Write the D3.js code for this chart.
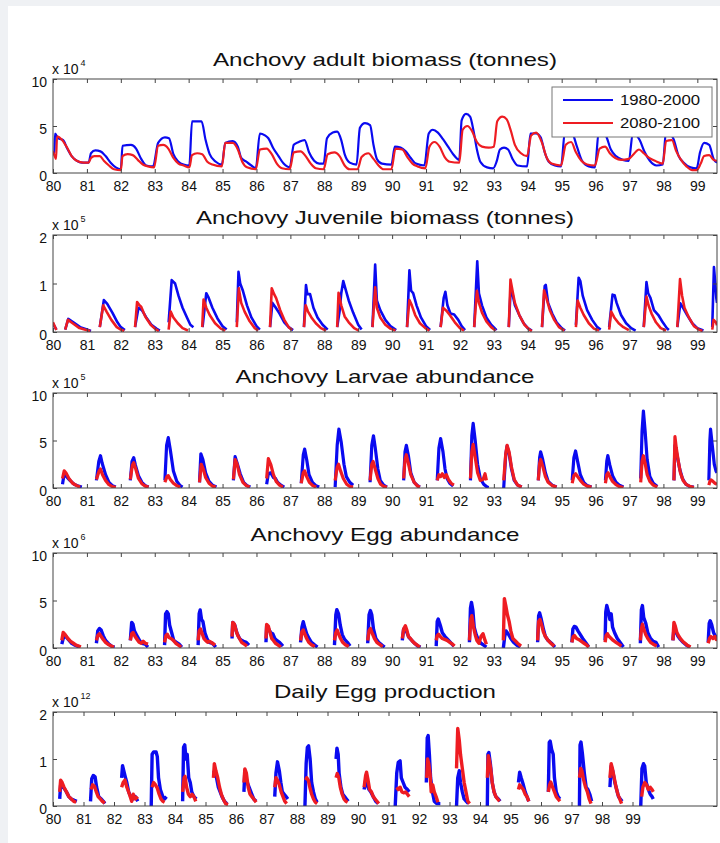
<!DOCTYPE html>
<html>
<head>
<meta charset="utf-8">
<script src="https://cdn.jsdelivr.net/npm/d3@7/dist/d3.min.js"></script>
<style>
body { margin: 0; background: #eff1f4; }
svg { display: block; }
text { font-family: "Liberation Sans", Arial, sans-serif; fill: #111; }
</style>
</head>
<body>
<div class="chart"></div>
<script>
const years = d3.range(80, 100);
const seriesNames = ['1980-2000', '2080-2100'];
const titles = ['Anchovy adult biomass (tonnes)', 'Anchovy Juvenile biomass (tonnes)', 'Anchovy Larvae abundance', 'Anchovy Egg abundance', 'Daily Egg production'];
const exponents = ['4', '5', '5', '6', '12'];
const yMax = [10, 2, 10, 10, 2];
const yTicks = [[0, 5, 10], [0, 1, 2], [0, 5, 10], [0, 5, 10], [0, 1, 2]];
const xMax = [99.58, 99.58, 99.58, 99.58, 101.77];

// [year, value] ; null = break in the line
const adultBlue = [[80.0,2.2],[80.04,2.0],[80.06,4.2],[80.15,3.7],[80.3,3.5],[80.42,2.6],[80.55,1.8],[80.7,1.3],[80.85,1.1],[81.05,1.1],[81.12,2.1],[81.25,2.4],[81.4,2.3],[81.55,1.8],[81.7,1.1],[81.85,0.6],[82.0,0.4],[82.05,2.9],[82.3,3.0],[82.45,2.6],[82.6,1.5],[82.75,0.8],[82.95,0.7],[83.1,3.2],[83.3,3.8],[83.42,3.7],[83.55,2.0],[83.7,1.2],[83.85,0.9],[84.02,0.8],[84.1,5.5],[84.38,5.5],[84.5,3.5],[84.62,2.0],[84.8,1.2],[84.98,0.9],[85.08,3.2],[85.3,3.4],[85.45,2.8],[85.55,1.6],[85.7,1.2],[85.85,0.8],[85.98,0.5],[86.1,4.2],[86.25,4.0],[86.35,3.7],[86.5,2.6],[86.65,1.8],[86.8,1.0],[86.98,0.6],[87.1,3.0],[87.25,3.3],[87.42,3.5],[87.55,2.2],[87.7,1.3],[87.85,1.0],[87.98,1.0],[88.08,3.7],[88.25,4.3],[88.38,4.4],[88.5,3.5],[88.6,2.0],[88.75,1.1],[88.95,0.9],[89.05,4.8],[89.2,5.3],[89.35,5.1],[89.45,3.0],[89.55,1.5],[89.7,1.0],[89.98,0.9],[90.08,2.8],[90.25,2.7],[90.4,2.3],[90.55,1.6],[90.7,1.0],[90.95,0.8],[91.08,4.2],[91.2,4.6],[91.35,4.3],[91.5,3.6],[91.65,2.8],[91.8,2.0],[91.98,1.4],[92.05,5.6],[92.18,6.3],[92.3,6.0],[92.4,4.5],[92.5,2.5],[92.6,1.2],[92.8,0.6],[92.98,0.5],[93.08,1.2],[93.18,2.5],[93.3,2.7],[93.42,2.5],[93.55,1.5],[93.7,0.8],[93.98,0.7],[94.08,4.2],[94.25,4.2],[94.38,3.8],[94.5,2.2],[94.62,1.2],[94.8,0.8],[94.98,0.7],[95.1,4.5],[95.3,4.3],[95.45,2.8],[95.6,1.3],[95.8,0.7],[95.98,0.6],[96.1,4.6],[96.3,4.0],[96.45,2.5],[96.6,1.8],[96.8,1.4],[96.98,1.3],[97.1,4.3],[97.3,3.5],[97.45,2.2],[97.6,1.3],[97.8,0.8],[97.98,0.9],[98.08,4.5],[98.3,3.6],[98.45,1.8],[98.6,1.1],[98.8,0.6],[98.98,0.5],[99.08,2.2],[99.2,3.2],[99.35,3.0],[99.48,1.5],[99.58,1.1]];
const adultRed = [[80.0,2.3],[80.05,1.8],[80.09,1.5],[80.12,3.9],[80.25,3.6],[80.4,2.8],[80.55,1.8],[80.7,1.3],[80.9,1.1],[81.05,1.1],[81.12,1.6],[81.22,1.8],[81.38,1.8],[81.5,1.3],[81.65,0.8],[81.8,0.4],[82.0,0.3],[82.05,1.8],[82.2,2.0],[82.35,1.9],[82.5,1.4],[82.65,0.9],[82.8,0.7],[82.98,0.6],[83.1,2.9],[83.25,3.0],[83.4,2.6],[83.55,1.6],[83.7,1.0],[83.85,0.8],[84.02,0.6],[84.1,1.9],[84.25,2.1],[84.4,2.0],[84.55,1.2],[84.7,0.9],[84.98,0.7],[85.08,3.2],[85.3,3.2],[85.45,2.5],[85.58,1.2],[85.72,0.6],[85.98,0.4],[86.1,2.5],[86.3,2.6],[86.45,2.0],[86.6,1.0],[86.75,0.5],[86.98,0.4],[87.1,2.2],[87.3,2.3],[87.45,1.8],[87.6,1.0],[87.75,0.5],[87.98,0.4],[88.1,2.0],[88.3,2.2],[88.45,1.8],[88.6,0.8],[88.75,0.4],[88.98,0.4],[89.1,1.7],[89.3,2.1],[89.45,1.5],[89.6,0.8],[89.75,0.4],[89.98,0.4],[90.1,2.6],[90.3,2.5],[90.45,1.7],[90.6,1.0],[90.75,0.7],[90.98,0.5],[91.1,2.8],[91.25,3.3],[91.4,2.8],[91.55,1.7],[91.7,1.2],[91.98,1.1],[92.08,4.6],[92.22,5.0],[92.35,4.5],[92.5,3.3],[92.65,2.8],[92.85,2.7],[93.0,2.8],[93.1,5.5],[93.25,6.0],[93.38,5.7],[93.5,4.5],[93.62,3.0],[93.8,2.1],[93.98,1.8],[94.1,4.0],[94.25,4.3],[94.42,3.2],[94.55,1.7],[94.7,1.0],[94.98,0.8],[95.12,3.0],[95.28,3.3],[95.42,2.2],[95.58,1.3],[95.75,0.9],[95.98,0.8],[96.12,2.6],[96.28,2.8],[96.42,2.1],[96.58,1.6],[96.75,1.4],[96.98,1.5],[97.12,2.0],[97.28,2.5],[97.42,2.1],[97.58,1.6],[97.75,1.3],[97.98,1.0],[98.08,3.4],[98.25,3.5],[98.38,2.3],[98.52,1.4],[98.68,0.7],[98.85,0.3],[98.98,0.3],[99.1,1.0],[99.2,1.8],[99.35,1.9],[99.48,1.4],[99.58,1.3]];

const juvBlue = [[80.0,0.17],[80.1,0.05],null,[80.36,0.05],[80.45,0.27],[80.6,0.2],[80.8,0.1],[81.0,0.05],[81.12,0.02],null,[81.38,0.1],[81.5,0.66],[81.6,0.58],[81.75,0.4],[81.9,0.2],[82.0,0.1],[82.12,0.04],null,[82.42,0.1],[82.52,0.5],[82.62,0.45],[82.75,0.3],[82.9,0.15],[83.05,0.07],[83.15,0.03],null,[83.41,0.2],[83.5,1.07],[83.6,1.0],[83.7,0.75],[83.82,0.5],[83.95,0.3],[84.05,0.15],[84.14,0.1],null,[84.41,0.1],[84.52,0.8],[84.58,0.72],[84.7,0.5],[84.85,0.28],[85.0,0.12],[85.12,0.05],null,[85.42,0.2],[85.47,1.24],[85.52,1.0],[85.6,0.85],[85.72,0.55],[85.85,0.3],[86.0,0.12],[86.1,0.05],null,[86.4,0.1],[86.47,0.6],[86.55,0.52],[86.68,0.38],[86.82,0.2],[86.95,0.1],[87.08,0.04],null,[87.4,0.1],[87.46,0.97],[87.5,0.78],[87.58,0.78],[87.68,0.5],[87.8,0.3],[87.95,0.15],[88.1,0.05],null,[88.38,0.1],[88.45,0.42],[88.5,0.8],[88.56,1.05],[88.62,0.9],[88.72,0.65],[88.85,0.4],[89.0,0.15],[89.1,0.05],null,[89.42,0.1],[89.5,1.39],[89.55,0.65],[89.65,0.45],[89.8,0.25],[89.95,0.12],[90.12,0.04],null,[90.44,0.1],[90.51,1.27],[90.56,0.85],[90.62,0.8],[90.72,0.55],[90.85,0.3],[91.0,0.12],[91.12,0.04],null,[91.43,0.1],[91.52,0.7],[91.57,0.83],[91.63,0.55],[91.72,0.38],[91.83,0.36],[91.95,0.25],[92.05,0.12],[92.15,0.04],null,[92.42,0.1],[92.51,1.46],[92.56,0.8],[92.65,0.55],[92.78,0.3],[92.92,0.15],[93.08,0.04],null,[93.44,0.1],[93.5,0.95],[93.56,0.75],[93.62,0.55],[93.75,0.35],[93.88,0.18],[94.0,0.08],[94.12,0.03],null,[94.42,0.1],[94.5,0.95],[94.53,0.97],[94.6,0.6],[94.72,0.38],[94.85,0.2],[95.0,0.08],[95.1,0.03],null,[95.42,0.15],[95.5,1.12],[95.55,1.05],[95.62,0.75],[95.75,0.45],[95.9,0.25],[96.05,0.1],[96.15,0.05],null,[96.4,0.1],[96.5,0.77],[96.56,0.76],[96.62,0.6],[96.75,0.35],[96.9,0.18],[97.05,0.08],[97.18,0.03],null,[97.42,0.1],[97.5,1.03],[97.55,0.8],[97.62,0.7],[97.72,0.45],[97.85,0.35],[97.98,0.2],[98.1,0.08],[98.16,0.04],null,[98.41,0.1],[98.5,0.59],[98.58,0.5],[98.7,0.35],[98.85,0.18],[99.0,0.08],[99.18,0.03],null,[99.44,0.1],[99.49,1.34],[99.53,1.0],[99.56,0.7],[99.58,0.6]];
const juvRed = [[80.0,0.2],[80.05,0.12],[80.1,0.04],null,[80.36,0.05],[80.44,0.25],[80.58,0.18],[80.78,0.08],[80.98,0.04],[81.1,0.02],null,[81.38,0.1],[81.48,0.55],[81.58,0.42],[81.72,0.25],[81.88,0.1],[82.0,0.05],[82.1,0.02],null,[82.42,0.1],[82.48,0.62],[82.55,0.55],[82.6,0.52],[82.72,0.32],[82.88,0.15],[83.02,0.06],[83.12,0.02],null,[83.41,0.05],[83.47,0.42],[83.55,0.3],[83.68,0.18],[83.82,0.08],[83.98,0.03],null,[84.4,0.1],[84.44,0.67],[84.52,0.5],[84.62,0.35],[84.78,0.18],[84.95,0.07],[85.08,0.03],null,[85.42,0.1],[85.48,0.9],[85.55,0.6],[85.65,0.42],[85.8,0.22],[85.95,0.08],[86.05,0.03],null,[86.4,0.1],[86.45,0.9],[86.52,0.78],[86.58,0.7],[86.7,0.45],[86.82,0.25],[86.95,0.1],[87.05,0.04],null,[87.4,0.1],[87.45,0.55],[87.52,0.42],[87.62,0.3],[87.75,0.18],[87.9,0.08],[88.05,0.03],null,[88.38,0.1],[88.42,0.81],[88.5,0.55],[88.6,0.32],[88.72,0.2],[88.88,0.08],[89.02,0.03],null,[89.42,0.1],[89.5,0.92],[89.55,0.5],[89.65,0.3],[89.8,0.15],[89.95,0.07],[90.1,0.03],null,[90.44,0.1],[90.51,0.66],[90.58,0.55],[90.68,0.35],[90.82,0.18],[90.98,0.08],[91.1,0.03],null,[91.43,0.1],[91.5,0.5],[91.6,0.44],[91.7,0.35],[91.85,0.2],[92.0,0.08],[92.12,0.03],null,[92.42,0.1],[92.5,0.85],[92.56,0.6],[92.65,0.4],[92.78,0.22],[92.92,0.1],[93.05,0.03],null,[93.44,0.1],[93.49,1.08],[93.55,0.85],[93.62,0.6],[93.75,0.35],[93.9,0.15],[94.05,0.05],[94.12,0.02],null,[94.42,0.1],[94.48,0.86],[94.55,0.7],[94.65,0.45],[94.78,0.25],[94.92,0.1],[95.08,0.03],null,[95.42,0.1],[95.47,0.65],[95.55,0.5],[95.65,0.35],[95.8,0.18],[95.95,0.07],[96.1,0.03],null,[96.4,0.05],[96.46,0.42],[96.55,0.3],[96.68,0.18],[96.82,0.1],[96.98,0.04],null,[97.42,0.1],[97.5,0.73],[97.56,0.55],[97.65,0.38],[97.78,0.2],[97.92,0.08],[98.08,0.03],null,[98.41,0.1],[98.49,1.09],[98.55,0.75],[98.62,0.5],[98.75,0.3],[98.9,0.12],[99.05,0.05],[99.15,0.02],null,[99.44,0.05],[99.48,0.25],[99.55,0.2],[99.58,0.14]];

const larBlue = [[80.28,0.4],[80.33,1.5],[80.4,1.2],[80.5,0.8],[80.62,0.4],[80.75,0.2],[80.85,0.1],null,[81.28,0.8],[81.35,2.8],[81.4,3.4],[81.45,2.6],[81.55,1.4],[81.65,0.6],[81.75,0.25],[81.85,0.1],null,[82.28,0.8],[82.33,2.8],[82.38,3.2],[82.43,2.4],[82.52,1.3],[82.62,0.6],[82.72,0.25],[82.82,0.1],null,[83.3,0.8],[83.35,4.5],[83.4,5.3],[83.46,4.0],[83.55,1.8],[83.65,0.7],[83.75,0.25],[83.82,0.1],null,[84.32,0.6],[84.36,3.6],[84.42,3.0],[84.5,1.6],[84.6,0.7],[84.7,0.3],[84.82,0.1],null,[85.32,0.8],[85.37,3.3],[85.43,2.6],[85.52,1.5],[85.62,0.6],[85.72,0.25],[85.82,0.1],null,[86.3,0.4],[86.35,1.5],[86.42,1.6],[86.5,1.1],[86.56,1.0],[86.62,0.6],[86.72,0.3],[86.82,0.1],null,[87.32,0.5],[87.38,3.5],[87.42,4.1],[87.48,3.0],[87.55,1.4],[87.65,0.6],[87.75,0.25],[87.85,0.1],null,[88.32,0.1],[88.38,4.5],[88.43,6.2],[88.5,4.8],[88.58,2.5],[88.65,1.2],[88.75,0.6],[88.85,0.3],null,[89.35,0.6],[89.4,4.5],[89.45,5.5],[89.5,4.3],[89.58,2.0],[89.65,0.8],[89.75,0.3],[89.85,0.1],null,[90.34,0.8],[90.38,3.8],[90.42,4.5],[90.48,3.4],[90.55,1.6],[90.65,0.6],[90.75,0.25],[90.82,0.1],null,[91.33,0.8],[91.38,4.2],[91.43,5.2],[91.5,3.8],[91.56,2.0],[91.62,1.0],[91.7,0.5],[91.8,0.2],null,[92.31,0.8],[92.35,5.5],[92.39,6.8],[92.45,5.0],[92.52,2.5],[92.6,1.0],[92.7,0.4],[92.8,0.1],[92.85,0.05],null,[93.29,0.0],[93.35,3.5],[93.39,4.4],[93.45,3.6],[93.52,2.0],[93.6,0.8],[93.7,0.3],[93.82,0.1],null,[94.31,0.8],[94.35,3.2],[94.38,3.8],[94.44,3.0],[94.52,1.6],[94.6,0.7],[94.72,0.3],[94.85,0.1],null,[95.31,0.8],[95.36,3.2],[95.41,3.9],[95.47,2.8],[95.55,1.4],[95.65,0.6],[95.75,0.25],[95.88,0.1],null,[96.29,0.8],[96.33,2.8],[96.36,3.4],[96.42,2.4],[96.5,1.3],[96.6,0.6],[96.7,0.3],[96.82,0.1],null,[97.33,1.0],[97.37,6.0],[97.41,8.1],[97.46,6.0],[97.52,3.0],[97.6,1.2],[97.7,0.5],[97.82,0.15],null,[98.31,0.8],[98.34,4.5],[98.4,3.5],[98.48,2.0],[98.56,1.0],[98.66,0.4],[98.78,0.15],[98.9,0.1],null,[99.34,0.8],[99.37,5.0],[99.39,6.2],[99.44,4.5],[99.5,2.5],[99.55,1.8],[99.58,1.6]];
const larRed = [[80.28,1.0],[80.33,1.8],[80.38,1.6],[80.47,1.0],[80.58,0.5],[80.7,0.25],[80.8,0.1],null,[81.28,0.9],[81.36,1.8],[81.4,2.0],[81.46,1.4],[81.55,0.8],[81.65,0.35],[81.75,0.15],[81.85,0.05],null,[82.28,0.9],[82.34,2.4],[82.38,2.66],[82.44,2.0],[82.52,1.0],[82.62,0.45],[82.72,0.2],[82.82,0.1],null,[83.3,0.6],[83.36,1.2],[83.4,1.3],[83.46,0.9],[83.55,0.5],[83.65,0.25],[83.75,0.1],null,[84.32,0.6],[84.37,2.5],[84.43,2.0],[84.5,1.1],[84.6,0.5],[84.7,0.2],[84.8,0.1],null,[85.32,0.9],[85.37,3.0],[85.43,2.5],[85.5,1.4],[85.6,0.6],[85.7,0.25],[85.8,0.1],null,[86.3,1.0],[86.35,3.1],[86.42,2.5],[86.5,1.4],[86.58,0.7],[86.68,0.3],[86.78,0.1],null,[87.32,0.5],[87.38,1.6],[87.42,1.8],[87.48,1.2],[87.56,0.6],[87.66,0.25],[87.76,0.1],null,[88.32,0.8],[88.38,2.2],[88.42,2.5],[88.48,1.8],[88.56,1.0],[88.66,0.4],[88.76,0.15],[88.85,0.1],null,[89.35,0.8],[89.4,2.5],[89.44,2.8],[89.5,2.0],[89.58,1.0],[89.66,0.4],[89.76,0.15],[89.85,0.1],null,[90.34,1.0],[90.38,3.0],[90.42,3.5],[90.48,2.6],[90.55,1.4],[90.65,0.6],[90.75,0.2],[90.82,0.1],null,[91.33,0.8],[91.38,1.4],[91.43,1.2],[91.48,1.5],[91.54,1.1],[91.6,1.4],[91.66,0.9],[91.74,0.5],[91.82,0.3],null,[92.31,1.0],[92.35,3.8],[92.39,4.6],[92.45,3.2],[92.52,1.6],[92.6,0.8],[92.68,0.9],[92.74,1.5],[92.78,0.8],null,[93.29,0.8],[93.35,3.6],[93.39,4.5],[93.45,3.8],[93.52,2.2],[93.6,0.9],[93.7,0.3],[93.82,0.1],null,[94.31,0.8],[94.35,2.6],[94.38,3.0],[94.44,2.3],[94.52,1.2],[94.6,0.6],[94.72,0.25],[94.85,0.1],null,[95.31,0.5],[95.36,1.3],[95.41,1.5],[95.47,1.2],[95.55,0.8],[95.65,0.4],[95.75,0.2],[95.88,0.1],null,[96.29,0.5],[96.33,1.4],[96.37,1.6],[96.42,1.2],[96.5,0.7],[96.6,0.35],[96.7,0.15],[96.82,0.05],null,[97.33,0.6],[97.37,2.8],[97.41,3.4],[97.46,2.6],[97.52,1.4],[97.6,0.7],[97.7,0.3],[97.82,0.1],null,[98.31,0.8],[98.34,5.4],[98.38,4.2],[98.44,2.8],[98.5,1.6],[98.58,0.8],[98.68,0.35],[98.8,0.15],[98.9,0.05],null,[99.34,0.3],[99.37,0.7],[99.4,0.86],[99.46,0.7],[99.52,0.5],[99.58,0.4]];

const eggBlue = [[80.26,0.4],[80.3,1.0],[80.36,1.3],[80.45,0.9],[80.55,0.5],[80.65,0.3],[80.75,0.15],[80.8,0.1],null,[81.28,0.5],[81.32,1.8],[81.37,2.06],[81.42,1.9],[81.48,1.3],[81.55,0.8],[81.65,0.4],[81.75,0.15],[81.82,0.1],null,[82.28,0.8],[82.32,2.7],[82.36,2.5],[82.4,1.8],[82.46,1.4],[82.55,0.8],[82.62,0.5],[82.72,0.4],[82.8,0.1],null,[83.29,0.3],[83.32,3.6],[83.36,3.83],[83.4,3.6],[83.44,2.4],[83.5,1.6],[83.56,0.8],[83.64,0.6],[83.72,0.4],[83.8,0.1],null,[84.28,0.3],[84.31,3.6],[84.34,4.0],[84.38,3.0],[84.42,2.8],[84.48,1.6],[84.54,1.0],[84.6,0.6],[84.7,0.5],[84.8,0.1],null,[85.28,1.0],[85.3,2.7],[85.36,2.4],[85.42,1.6],[85.5,1.0],[85.56,0.8],[85.62,0.7],[85.7,0.6],[85.78,0.3],null,[86.28,0.6],[86.3,2.3],[86.36,2.0],[86.42,1.6],[86.48,1.5],[86.54,1.0],[86.6,0.8],[86.68,0.6],[86.78,0.2],null,[87.3,0.6],[87.34,2.2],[87.38,2.77],[87.42,2.2],[87.48,1.5],[87.55,1.0],[87.62,0.6],[87.72,0.3],[87.8,0.1],null,[88.3,0.3],[88.34,3.5],[88.37,4.04],[88.42,3.6],[88.47,2.4],[88.53,1.4],[88.6,0.9],[88.68,0.6],[88.76,0.2],null,[89.28,0.5],[89.32,3.5],[89.36,3.94],[89.4,3.5],[89.45,2.0],[89.52,1.0],[89.6,0.6],[89.7,0.3],[89.78,0.1],null,[90.3,0.8],[90.34,2.0],[90.38,2.0],[90.44,1.6],[90.5,1.1],[90.58,0.8],[90.66,0.5],[90.76,0.2],[90.84,0.1],null,[91.3,0.2],[91.33,2.8],[91.36,3.05],[91.42,2.4],[91.48,1.6],[91.56,1.2],[91.64,0.9],[91.72,0.6],[91.82,0.2],null,[92.28,0.6],[92.31,4.2],[92.34,4.8],[92.38,4.0],[92.42,2.2],[92.48,1.4],[92.55,0.8],[92.62,0.5],[92.7,0.3],[92.78,0.1],null,[93.28,0.0],[93.32,1.2],[93.36,1.8],[93.42,1.5],[93.5,1.0],[93.58,0.6],[93.68,0.3],[93.78,0.1],null,[94.29,0.6],[94.32,3.4],[94.35,3.7],[94.4,3.0],[94.46,2.0],[94.52,1.2],[94.6,0.8],[94.7,0.5],[94.8,0.1],null,[95.3,0.6],[95.33,2.0],[95.37,2.27],[95.42,2.2],[95.48,1.8],[95.55,1.4],[95.62,1.0],[95.7,0.6],[95.8,0.1],null,[96.28,0.8],[96.3,3.8],[96.33,4.47],[96.38,3.8],[96.42,3.0],[96.46,3.6],[96.5,2.2],[96.56,1.6],[96.64,1.0],[96.72,0.6],[96.82,0.1],null,[97.32,0.5],[97.35,4.0],[97.38,4.47],[97.42,3.2],[97.48,2.6],[97.54,1.6],[97.62,1.0],[97.7,0.7],[97.78,0.6],[97.86,0.1],null,[98.28,0.8],[98.31,2.0],[98.36,1.8],[98.42,1.3],[98.5,0.9],[98.58,0.6],[98.68,0.3],[98.78,0.1],null,[99.32,0.6],[99.35,2.6],[99.38,2.87],[99.42,2.5],[99.48,1.6],[99.54,1.2],[99.58,1.0]];
const eggRed = [[80.26,0.8],[80.3,1.63],[80.36,1.4],[80.44,1.0],[80.52,0.7],[80.6,0.5],[80.68,0.3],[80.76,0.2],[80.82,0.1],null,[81.28,0.8],[81.32,1.3],[81.37,1.5],[81.42,1.2],[81.48,0.9],[81.55,0.6],[81.62,0.4],[81.72,0.2],[81.8,0.1],null,[82.28,0.8],[82.32,1.5],[82.36,1.63],[82.42,1.2],[82.48,0.9],[82.54,0.6],[82.6,0.5],[82.66,0.7],[82.72,0.5],[82.8,0.4],null,[83.29,0.6],[83.33,1.3],[83.37,1.45],[83.42,1.1],[83.48,1.0],[83.55,0.8],[83.62,0.5],[83.7,0.3],[83.78,0.1],null,[84.28,0.8],[84.31,1.8],[84.35,2.0],[84.4,1.5],[84.45,1.0],[84.5,0.8],[84.56,0.6],[84.62,0.7],[84.7,0.5],[84.78,0.3],null,[85.28,1.2],[85.3,2.7],[85.35,2.5],[85.4,1.8],[85.45,1.3],[85.5,1.0],[85.56,0.6],[85.64,0.4],[85.72,0.2],null,[86.28,1.0],[86.3,2.48],[86.35,2.3],[86.4,1.6],[86.45,1.0],[86.5,0.8],[86.56,0.5],[86.64,0.3],[86.72,0.1],null,[87.3,0.8],[87.34,1.7],[87.38,1.9],[87.42,1.5],[87.48,1.0],[87.54,0.6],[87.62,0.35],[87.72,0.15],null,[88.3,0.8],[88.34,1.6],[88.38,1.9],[88.42,1.5],[88.48,1.0],[88.54,0.6],[88.62,0.35],[88.72,0.15],null,[89.28,0.8],[89.32,1.8],[89.36,2.05],[89.42,1.5],[89.48,1.0],[89.55,0.6],[89.62,0.4],[89.72,0.15],null,[90.3,1.0],[90.34,2.0],[90.39,2.34],[90.44,1.8],[90.48,1.2],[90.54,1.0],[90.6,0.7],[90.66,0.5],[90.74,0.3],[90.82,0.1],null,[91.3,0.8],[91.33,1.3],[91.37,1.45],[91.42,1.2],[91.48,1.0],[91.55,0.9],[91.62,0.8],[91.7,0.6],[91.78,0.4],[91.84,0.2],null,[92.28,0.8],[92.32,3.0],[92.35,3.4],[92.4,2.2],[92.45,1.4],[92.5,0.8],[92.56,0.5],[92.62,1.2],[92.68,1.5],[92.74,0.8],[92.78,0.4],null,[93.28,0.8],[93.31,5.2],[93.35,4.5],[93.4,3.5],[93.45,2.8],[93.5,1.8],[93.56,1.0],[93.62,0.8],[93.7,0.5],[93.8,0.2],null,[94.29,0.8],[94.32,2.8],[94.36,3.0],[94.41,2.4],[94.46,1.7],[94.52,1.2],[94.6,0.8],[94.68,0.5],[94.78,0.2],null,[95.3,0.6],[95.34,1.2],[95.38,1.3],[95.44,1.0],[95.5,0.9],[95.58,0.7],[95.66,0.5],[95.74,0.3],[95.8,0.1],null,[96.28,0.6],[96.31,1.3],[96.35,1.5],[96.4,1.2],[96.46,1.0],[96.52,0.8],[96.6,0.6],[96.68,0.4],[96.76,0.2],null,[97.32,0.8],[97.35,2.0],[97.38,2.5],[97.42,2.0],[97.48,1.4],[97.54,1.0],[97.62,0.6],[97.7,0.4],[97.8,0.2],null,[98.28,0.8],[98.31,2.7],[98.35,2.3],[98.4,1.6],[98.46,1.2],[98.52,0.9],[98.6,0.6],[98.7,0.3],[98.8,0.1],null,[99.32,0.5],[99.36,1.0],[99.4,1.2],[99.46,1.0],[99.52,1.2],[99.56,0.9],[99.58,1.0]];

const depBlue = [[80.22,0.15],[80.25,0.45],[80.3,0.42],[80.36,0.38],[80.44,0.3],[80.52,0.2],[80.6,0.15],[80.7,0.12],[80.78,0.1],null,[81.23,0.1],[81.27,0.58],[81.32,0.65],[81.38,0.62],[81.43,0.4],[81.5,0.2],[81.58,0.15],[81.65,0.1],[81.7,0.05],null,[82.25,0.6],[82.28,0.86],[82.32,0.75],[82.37,0.62],[82.42,0.5],[82.48,0.3],[82.55,0.2],[82.62,0.15],[82.7,0.2],[82.78,0.1],null,[83.22,0.0],[83.25,1.1],[83.3,1.15],[83.38,1.15],[83.42,1.05],[83.46,0.6],[83.52,0.35],[83.6,0.2],[83.66,0.15],[83.72,0.2],null,[84.25,0.1],[84.28,1.25],[84.32,1.3],[84.36,1.0],[84.4,1.1],[84.45,0.6],[84.5,0.5],[84.55,0.3],[84.62,0.2],[84.7,0.15],null,[85.26,0.7],[85.3,0.75],[85.36,0.6],[85.42,0.4],[85.48,0.3],[85.54,0.2],[85.62,0.1],[85.7,0.05],null,[86.26,0.3],[86.29,0.75],[86.34,0.55],[86.4,0.45],[86.46,0.35],[86.52,0.25],[86.58,0.15],[86.66,0.1],null,[87.27,0.2],[87.31,0.7],[87.36,0.94],[87.42,0.75],[87.47,0.5],[87.52,0.3],[87.58,0.25],[87.64,0.2],[87.7,0.15],null,[88.26,0.0],[88.3,0.9],[88.34,1.25],[88.38,1.28],[88.43,1.0],[88.48,0.5],[88.54,0.3],[88.6,0.15],[88.66,0.08],null,[89.28,1.0],[89.31,1.23],[89.35,1.1],[89.38,0.7],[89.44,0.4],[89.5,0.25],[89.56,0.2],[89.62,0.15],[89.68,0.1],null,[90.2,0.35],[90.25,0.55],[90.3,0.45],[90.36,0.35],[90.42,0.3],[90.5,0.2],[90.58,0.1],[90.66,0.05],null,[91.22,0.0],[91.27,0.7],[91.32,0.93],[91.38,0.96],[91.42,0.6],[91.48,0.5],[91.54,0.4],[91.62,0.35],[91.68,0.3],null,[92.24,0.5],[92.27,1.45],[92.3,1.5],[92.34,1.1],[92.38,0.6],[92.44,0.3],[92.5,0.1],[92.58,0.05],[92.7,0.05],null,[93.23,0.0],[93.27,0.6],[93.32,0.75],[93.36,0.5],[93.42,0.3],[93.48,0.15],[93.55,0.1],[93.62,0.05],null,[94.24,0.0],[94.26,1.1],[94.29,1.14],[94.34,0.9],[94.4,0.5],[94.46,0.3],[94.52,0.2],[94.6,0.15],[94.66,0.1],null,[95.26,0.5],[95.3,0.72],[95.35,0.6],[95.42,0.45],[95.48,0.3],[95.54,0.2],[95.6,0.1],null,[96.24,0.3],[96.27,1.35],[96.3,1.38],[96.35,1.2],[96.4,1.1],[96.44,0.6],[96.5,0.3],[96.56,0.2],[96.62,0.15],null,[97.26,0.0],[97.28,1.3],[97.31,1.36],[97.36,1.1],[97.42,0.7],[97.48,0.4],[97.54,0.35],[97.6,0.25],[97.66,0.1],null,[98.26,0.4],[98.3,0.85],[98.35,0.75],[98.42,0.5],[98.48,0.35],[98.54,0.2],[98.6,0.15],[98.66,0.1],null,[99.27,0.0],[99.31,0.8],[99.36,0.9],[99.4,0.85],[99.45,0.5],[99.52,0.35],[99.58,0.25],[99.64,0.2],[99.68,0.15]];
const depRed = [[80.22,0.3],[80.25,0.55],[80.3,0.5],[80.36,0.4],[80.44,0.3],[80.52,0.2],[80.6,0.15],[80.68,0.1],[80.76,0.08],null,[81.25,0.35],[81.3,0.45],[81.36,0.42],[81.42,0.3],[81.48,0.2],[81.55,0.15],[81.62,0.1],[81.7,0.06],null,[82.25,0.4],[82.3,0.5],[82.36,0.55],[82.42,0.4],[82.48,0.3],[82.53,0.2],[82.58,0.1],[82.63,0.25],[82.7,0.15],[82.78,0.2],null,[83.25,0.4],[83.3,0.5],[83.36,0.45],[83.42,0.38],[83.48,0.25],[83.54,0.15],[83.6,0.1],[83.66,0.08],null,[84.25,0.3],[84.3,0.6],[84.33,0.63],[84.38,0.4],[84.44,0.25],[84.5,0.2],[84.56,0.25],[84.62,0.2],[84.68,0.1],null,[85.26,0.6],[85.29,0.9],[85.34,0.75],[85.4,0.6],[85.46,0.4],[85.52,0.25],[85.58,0.15],[85.66,0.05],[85.74,0.03],null,[86.26,0.5],[86.29,0.79],[86.34,0.7],[86.4,0.4],[86.46,0.25],[86.52,0.2],[86.58,0.15],[86.66,0.08],null,[87.27,0.4],[87.31,0.6],[87.36,0.55],[87.42,0.45],[87.48,0.3],[87.54,0.2],[87.6,0.1],[87.66,0.05],null,[88.28,0.55],[88.32,0.6],[88.37,0.55],[88.42,0.4],[88.48,0.25],[88.54,0.15],[88.6,0.08],[88.66,0.05],null,[89.28,0.6],[89.32,0.69],[89.37,0.6],[89.42,0.4],[89.48,0.25],[89.54,0.15],[89.6,0.1],[89.66,0.08],null,[90.2,0.4],[90.25,0.65],[90.28,0.72],[90.33,0.55],[90.38,0.35],[90.44,0.3],[90.5,0.2],[90.56,0.15],[90.62,0.1],[90.68,0.05],null,[91.27,0.4],[91.32,0.35],[91.38,0.4],[91.44,0.3],[91.5,0.28],[91.56,0.3],[91.62,0.25],[91.68,0.2],null,[92.25,0.6],[92.28,1.0],[92.32,0.9],[92.36,0.7],[92.4,0.3],[92.45,0.45],[92.5,0.3],[92.56,0.2],[92.62,0.08],null,[93.23,0.8],[93.27,1.65],[93.32,1.4],[93.36,1.1],[93.42,0.8],[93.48,0.5],[93.54,0.3],[93.6,0.1],[93.66,0.05],null,[94.24,0.6],[94.27,1.07],[94.3,1.0],[94.35,0.8],[94.4,0.5],[94.46,0.3],[94.52,0.2],[94.58,0.15],[94.64,0.1],null,[95.26,0.35],[95.3,0.45],[95.36,0.4],[95.42,0.35],[95.48,0.25],[95.54,0.2],[95.6,0.1],null,[96.24,0.3],[96.28,0.45],[96.32,0.51],[96.38,0.4],[96.44,0.3],[96.5,0.2],[96.56,0.15],[96.62,0.1],null,[97.26,0.6],[97.3,0.8],[97.34,0.75],[97.4,0.55],[97.46,0.4],[97.52,0.3],[97.58,0.15],[97.64,0.05],null,[98.26,0.6],[98.3,0.9],[98.34,0.8],[98.4,0.6],[98.46,0.4],[98.52,0.25],[98.58,0.15],[98.64,0.05],null,[99.3,0.2],[99.34,0.4],[99.4,0.5],[99.46,0.45],[99.52,0.35],[99.58,0.4],[99.64,0.35],[99.68,0.3]];

const blueSeries = [adultBlue, juvBlue, larBlue, eggBlue, depBlue];
const redSeries = [adultRed, juvRed, larRed, eggRed, depRed];
const colors = ['#0a0af0', '#ee1c22'];

// layout of the five boxes
const left = 53, right = 717;
const boxes = [
	{top: 79, bottom: 173, titleY: 66, width: 2.2, curve: d3.curveMonotoneX},
	{top: 235, bottom: 332, titleY: 224, width: 2.6, curve: d3.curveLinear},
	{top: 393, bottom: 488, titleY: 383, width: 3.2, curve: d3.curveLinear},
	{top: 553, bottom: 648, titleY: 541, width: 3.4, curve: d3.curveLinear},
	{top: 712, bottom: 806, titleY: 698, width: 3.4, curve: d3.curveLinear}
];
const titleWidths = [344, 378, 299, 269, 222];

let svg = d3.select('.chart').append('svg')
	.attr('width', 720)
	.attr('height', 843);

svg.append('rect')
	.attr('x', 8).attr('y', 6)
	.attr('width', 712).attr('height', 837)
	.attr('fill', '#fff');

boxes.forEach(function(b, i){
	let xScale = d3.scaleLinear()
		.domain([80, xMax[i]])
		.range([left, right]);
	let yScale = d3.scaleLinear()
		.domain([0, yMax[i]])
		.range([b.bottom, b.top]);

	let g = svg.append('g').attr('class', 'panel');

	let clip = 'clip' + i;
	g.append('clipPath').attr('id', clip)
		.append('rect')
		.attr('x', left).attr('y', b.top)
		.attr('width', right - left).attr('height', b.bottom - b.top);

	let line = d3.line()
		.defined(function(d){ return d !== null; })
		.x(function(d){ return xScale(d[0]); })
		.y(function(d){ return yScale(d[1]); })
		.curve(b.curve);

	[blueSeries[i], redSeries[i]].forEach(function(s, k){
		g.append('path')
			.datum(s)
			.attr('clip-path', 'url(#' + clip + ')')
			.attr('fill', 'none')
			.attr('stroke', colors[k])
			.attr('stroke-width', b.width)
			.attr('stroke-linejoin', 'round')
			.attr('d', line);
	});

	let xAxis = d3.axisBottom(xScale)
		.tickValues(years)
		.tickSizeInner(-4)
		.tickSizeOuter(0)
		.tickPadding(8)
		.tickFormat(d3.format('d'));
	let xTop = d3.axisTop(xScale)
		.tickValues(years)
		.tickSizeInner(-4)
		.tickSizeOuter(0)
		.tickFormat('');
	let yAxis = d3.axisLeft(yScale)
		.tickValues(yTicks[i])
		.tickSizeInner(-4)
		.tickSizeOuter(0)
		.tickPadding(6)
		.tickFormat(d3.format('d'));
	let yRight = d3.axisRight(yScale)
		.tickValues(yTicks[i])
		.tickSizeInner(-4)
		.tickSizeOuter(0)
		.tickFormat('');

	g.append('g').attr('class', 'x axis')
		.attr('transform', 'translate(0,' + b.bottom + ')')
		.call(xAxis);
	g.append('g').attr('class', 'x axis')
		.attr('transform', 'translate(0,' + b.top + ')')
		.call(xTop);
	g.append('g').attr('class', 'y axis')
		.attr('transform', 'translate(' + left + ',0)')
		.call(yAxis)
		.selectAll('text')
			.attr('dy', '0.5em');
	g.append('g').attr('class', 'y axis')
		.attr('transform', 'translate(' + right + ',0)')
		.call(yRight);

	g.selectAll('.axis path').remove();
	g.selectAll('.axis line').attr('stroke', '#444');
	g.selectAll('.axis text')
		.attr('fill', '#111')
		.style('font-size', '14px')
		.style('font-family', '"Liberation Sans", Arial, sans-serif');

	g.append('rect')
		.attr('x', left).attr('y', b.top)
		.attr('width', right - left).attr('height', b.bottom - b.top)
		.attr('fill', 'none')
		.attr('stroke', '#444')
		.attr('stroke-width', 1);

	g.append('text')
		.attr('x', (left + right) / 2)
		.attr('y', b.titleY)
		.attr('text-anchor', 'middle')
		.attr('textLength', titleWidths[i])
		.attr('lengthAdjust', 'spacingAndGlyphs')
		.style('font-size', '19px')
		.text(titles[i]);

	let mult = g.append('text')
		.attr('x', 52)
		.attr('y', b.top - 5)
		.style('font-size', '14px');
	mult.append('tspan').text('x 10');
	mult.append('tspan')
		.attr('dx', 2)
		.attr('dy', -8)
		.style('font-size', '9px')
		.text(exponents[i]);
});

// legend, top panel
let legend = svg.append('g').attr('class', 'legend');
legend.append('rect')
	.attr('x', 552).attr('y', 87)
	.attr('width', 160).attr('height', 50)
	.attr('fill', '#fff')
	.attr('stroke', '#777');
seriesNames.forEach(function(name, k){
	let y = 100 + k * 23;
	legend.append('line')
		.attr('x1', 563).attr('x2', 613)
		.attr('y1', y).attr('y2', y)
		.attr('stroke', colors[k])
		.attr('stroke-width', 2);
	legend.append('text')
		.attr('x', 620).attr('y', y + 5)
		.attr('textLength', 80)
		.attr('lengthAdjust', 'spacingAndGlyphs')
		.style('font-size', '14px')
		.text(name);
});
</script>
</body>
</html>
